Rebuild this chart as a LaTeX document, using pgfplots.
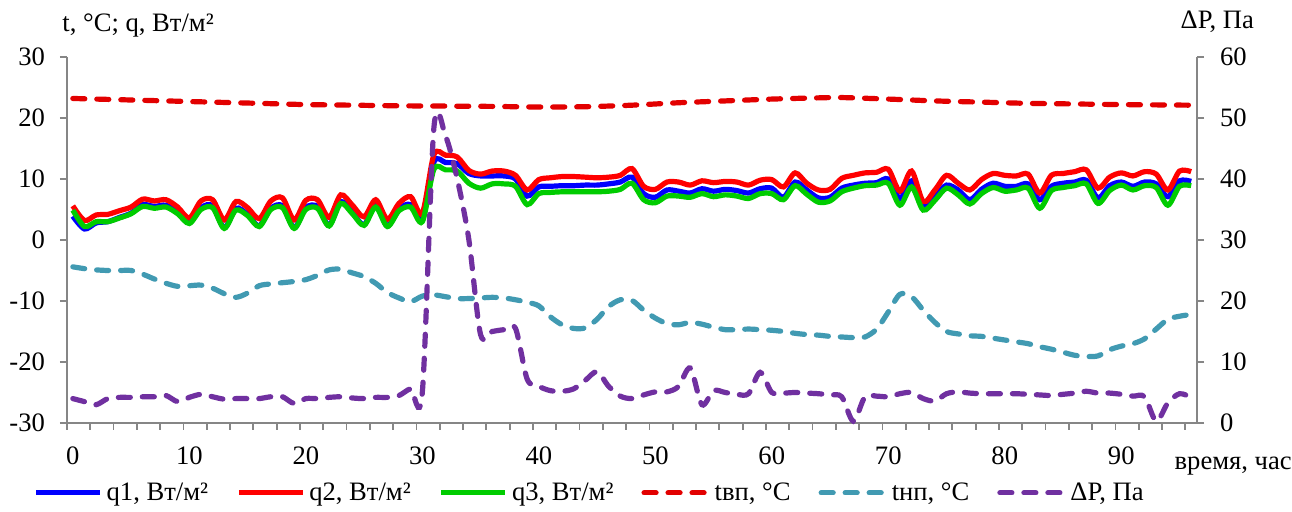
\documentclass[border=0pt]{standalone}
\usepackage{fontspec}
\setmainfont{Liberation Serif}
\usepackage{pgfplots}
\usepackage{pgfplotstable}
\pgfplotsset{compat=1.18}
\definecolor{cqa}{RGB}{0,0,255}
\definecolor{cqb}{RGB}{255,0,0}
\definecolor{cqc}{RGB}{0,204,0}
\definecolor{ctvp}{RGB}{226,0,0}
\definecolor{ctnp}{RGB}{65,154,178}
\definecolor{cdp}{RGB}{112,48,160}
\definecolor{axgray}{RGB}{134,134,134}

\pgfplotstableread{
x q1 q2 q3 tnp dp
0 3.9 5.6 4.9 -4.4 4.0
1 1.8 3.2 2.2 -4.7 3.5
2 2.8 4.1 3.0 -4.9 3.0
3 3.0 4.2 3.0 -5.0 4.0
4 3.7 4.8 3.6 -5.0 4.2
5 4.4 5.4 4.3 -5.0 4.2
6 5.8 6.7 5.5 -5.6 4.3
7 5.5 6.4 5.2 -6.4 4.3
8 5.7 6.6 5.4 -7.1 4.5
9 4.5 5.4 4.3 -7.6 3.5
10 2.8 3.6 2.7 -7.5 4.2
11 5.3 6.4 5.0 -7.4 4.7
12 5.6 6.6 5.3 -7.9 4.3
13 2.0 3.3 1.9 -8.8 3.9
14 5.2 6.3 4.9 -9.4 4.0
15 4.2 5.3 4.0 -8.7 4.0
16 2.3 3.5 2.2 -7.5 4.0
17 5.2 6.4 5.0 -7.2 4.3
18 5.6 6.9 5.3 -7.0 4.3
19 2.0 3.3 1.9 -6.8 3.2
20 5.3 6.5 5.0 -6.5 4.0
21 5.5 6.6 5.2 -5.8 4.0
22 2.4 3.7 2.3 -4.9 4.2
23 6.3 7.4 6.0 -4.8 4.3
24 4.5 5.7 4.3 -5.4 4.1
25 2.5 3.8 2.4 -6.0 4.0
26 5.7 6.6 5.4 -7.1 4.2
27 2.3 3.4 2.2 -8.6 4.2
28 5.1 6.0 4.8 -9.5 4.5
29 5.8 7.1 5.4 -10.1 5.6
30 3.2 4.4 3.0 -9.2 5.0
31 12.8 14.0 11.6 -9.0 48.5
32 12.7 13.9 11.5 -9.3 47.0
33 12.5 13.6 11.3 -9.6 40.0
34 10.9 11.4 9.3 -9.6 30.0
35 10.5 10.8 8.5 -9.5 14.5
36 10.5 11.3 9.2 -9.4 15.0
37 10.5 11.3 9.2 -9.5 15.3
38 10.0 10.6 8.8 -9.8 15.5
39 7.2 8.2 5.8 -10.2 7.2
40 8.7 9.9 7.6 -10.8 6.0
41 8.8 10.2 7.8 -12.6 5.3
42 8.9 10.4 7.9 -13.9 5.2
43 8.9 10.4 7.9 -14.5 5.6
44 9.0 10.3 7.9 -14.4 7.0
45 9.0 10.2 7.9 -13.0 8.4
46 9.2 10.3 8.0 -10.9 6.0
47 9.5 10.6 8.3 -9.8 4.4
48 10.3 11.7 9.3 -9.9 4.0
49 7.6 8.8 6.6 -11.5 4.6
50 7.0 8.3 6.1 -12.8 5.1
51 8.2 9.5 7.2 -13.7 5.1
52 8.0 9.5 7.2 -13.9 6.0
53 7.7 9.0 7.0 -13.5 9.0
54 8.4 9.7 7.6 -13.8 3.0
55 8.0 9.4 7.1 -14.3 5.3
56 8.3 9.6 7.4 -14.7 5.0
57 8.1 9.5 7.2 -14.7 4.7
58 7.7 9.0 6.8 -14.6 4.8
59 8.4 9.8 7.6 -14.7 8.3
60 8.5 9.9 7.6 -14.8 5.0
61 7.0 8.7 6.6 -15.0 4.9
62 9.5 11.0 8.9 -15.3 5.0
63 8.2 9.3 7.5 -15.5 4.9
64 6.9 8.2 6.2 -15.6 4.8
65 7.0 8.3 6.4 -15.8 4.6
66 8.5 10.1 7.9 -15.9 4.3
67 9.0 10.6 8.5 -16.0 0.3
68 9.3 11.0 8.9 -15.9 4.3
69 9.4 11.1 9.0 -14.6 4.4
70 10.0 11.6 9.3 -11.8 4.3
71 6.8 8.0 5.7 -8.9 4.8
72 9.7 11.3 8.7 -9.3 5.0
73 5.7 6.3 4.9 -11.5 4.0
74 7.2 8.2 6.5 -13.5 3.6
75 9.0 10.6 8.5 -15.0 4.8
76 8.2 9.3 7.4 -15.4 5.1
77 6.6 8.2 5.9 -15.7 4.9
78 8.3 9.9 7.6 -15.8 4.8
79 9.3 10.9 8.6 -16.1 4.8
80 8.8 10.6 8.0 -16.4 4.8
81 8.8 10.5 8.2 -16.7 4.8
82 9.2 10.8 8.5 -17.0 4.7
83 6.6 7.7 5.2 -17.5 4.6
84 8.8 10.6 8.1 -17.9 4.5
85 9.3 10.9 8.6 -18.4 4.7
86 9.5 11.2 8.9 -18.9 4.9
87 9.8 11.5 9.2 -19.1 5.2
88 6.9 8.5 6.0 -19.0 4.9
89 8.9 10.3 8.1 -18.0 4.9
90 9.5 11.0 9.0 -17.4 4.7
91 8.8 10.5 8.2 -17.0 4.4
92 9.5 11.2 8.9 -16.2 4.3
93 9.2 10.8 8.6 -14.6 0.3
94 7.1 8.2 5.7 -13.0 3.3
95 9.7 11.3 8.8 -12.5 4.8
96 9.6 11.2 8.9 -12.2 4.2
}\datatab

\pgfplotstableread{
x tvp
0 23.2
4 23.0
8 22.8
12 22.6
16 22.4
20 22.2
24 22.1
28 22.0
32 21.95
36 21.9
40 21.8
44 21.85
48 22.1
52 22.5
56 22.8
60 23.1
64 23.3
66 23.35
70 23.1
74 22.8
78 22.6
82 22.4
86 22.3
90 22.2
96 22.1
}\tvptab

\pgfplotsset{
  base/.style={
    scale only axis, width=565pt, height=183pt,
    at={(33.5pt,44.5pt)}, anchor=south west,
    xmin=-0.5, xmax=96.5, clip=false,
    font=\fontsize{13.3}{15.5}\selectfont,
    /pgf/number format/assume math mode=true,
    axis line style={draw=axgray, line width=0.9pt},
    tick style={draw=axgray, line width=0.9pt},
    major tick length=3.5pt, minor tick length=3.5pt,
  },
  q1s/.style={color=cqa, line width=2.6pt, smooth, tension=0.5, mark=none},
  q2s/.style={color=cqb, line width=2.6pt, smooth, tension=0.5, mark=none},
  q3s/.style={color=cqc, line width=2.6pt, smooth, tension=0.5, mark=none},
  tvps/.style={color=ctvp, line width=2.6pt, smooth, tension=0.5, mark=none, line cap=round, dash pattern=on 6pt off 6pt},
  tnps/.style={color=ctnp, line width=2.6pt, smooth, tension=0.5, mark=none, line cap=round, dash pattern=on 6pt off 6pt},
  dps/.style={color=cdp, line width=2.6pt, smooth, tension=0.5, mark=none, line cap=round, dash pattern=on 6pt off 6pt},
}

\begin{document}
\begin{tikzpicture}
\useasboundingbox (0,0) rectangle (646pt,256pt);
\begin{axis}[base,
  ymin=-30, ymax=30,
  axis x line*=bottom, axis y line*=left,
  tick align=outside,
  ytick={-30,-20,...,30},
  yticklabel style={xshift=-4pt},
  xtick={0,10,...,90},
  major x tick style={draw=none},
  minor xtick={-0.5,1.5,...,95.5},
  xticklabel style={yshift=-5pt},
]
\addplot[q1s] table[x=x,y=q1]{\datatab};
\addplot[q2s] table[x=x,y=q2]{\datatab};
\addplot[q3s] table[x=x,y=q3]{\datatab};
\addplot[tvps] table[x=x,y=tvp]{\tvptab};
\addplot[tnps] table[x=x,y=tnp]{\datatab};
\node[anchor=west, inner sep=0pt] at (rel axis cs:-0.0044,1.087) {t, °C; q, Вт/м²};
\node[anchor=center, inner sep=0pt] at (rel axis cs:1.032,-0.118) {время, час};
\end{axis}
\begin{axis}[base,
  ymin=0, ymax=60,
  axis x line=none, axis y line*=right,
  tick align=outside,
  ytick={0,10,...,60},
  yticklabel style={xshift=4.5pt},
  legend style={draw=none, fill=none, legend columns=6, at={(-0.030,-0.191)}, anchor=west, inner sep=0pt,
    /tikz/every even column/.append style={column sep=12pt},
    font=\fontsize{13.3}{15.5}\selectfont},
  legend cell align=left,
  legend image code/.code={\draw[#1] (0pt,0pt) -- (32pt,0pt);},
]
\addlegendimage{q1s}\addlegendentry{q1, Вт/м²}
\addlegendimage{q2s}\addlegendentry{q2, Вт/м²}
\addlegendimage{q3s}\addlegendentry{q3, Вт/м²}
\addlegendimage{tvps}\addlegendentry{tвп, °C}
\addlegendimage{tnps}\addlegendentry{tнп, °C}
\addplot[dps] table[x=x,y=dp]{\datatab};
\addlegendentry{ΔP, Па}
\node[anchor=center, inner sep=0pt] at (rel axis cs:1.018,1.096) {ΔP, Па};
\end{axis}
\end{tikzpicture}
\end{document}
